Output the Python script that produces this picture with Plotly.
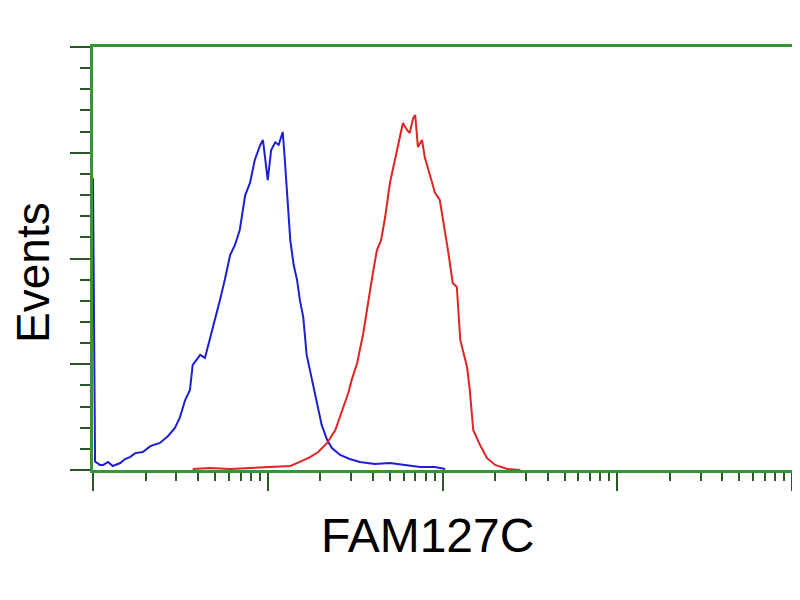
import math
import plotly.graph_objects as go

# Flow cytometry histogram (channels 0-1024 over 4 log decades), counts
blue_channel = [0, 3, 10, 15, 22, 29, 40, 47, 54, 62, 73, 84, 98, 110, 120, 127, 135, 142, 146, 157,
                164, 171, 179, 186, 193, 201, 208, 215, 223, 230, 237, 245, 249, 253, 256, 261, 267,
                272, 278, 281, 284, 289, 294, 299, 303, 308, 313, 321, 328, 335, 343, 350, 362, 376,
                391, 413, 435, 457, 479, 501, 516]
blue_events = [138, 4, 2.4, 2.4, 3.8, 1.9, 3.3, 5.2, 6.1, 8.0, 8.5, 11.3, 12.8, 16.1, 19.9, 24.6, 33.1,
               37.8, 49.6, 54.4, 53, 61.5, 71.9, 80.4, 89.8, 101.7, 106.4, 113.5, 130, 135.7, 146.6,
               153.7, 156, 146.6, 137.1, 151.3, 155, 153.7, 159.8, 146.6, 132.4, 108.7, 96.9, 89.8,
               80.4, 72.3, 54.4, 42.6, 33.1, 21.3, 14.2, 10.4, 7.1, 5.2, 3.8, 2.8, 3.3, 2.4, 1.4,
               1.4, 0.5]

red_channel = [146, 171, 201, 230, 259, 289, 303, 318, 330, 343, 355, 365, 374, 379, 387, 396, 401,
               406, 412, 416, 422, 428, 435, 441, 445, 450, 454, 460, 464, 469, 472, 476, 482, 486,
               494, 501, 508, 513, 520, 527, 533, 538, 548, 552, 557, 567, 577, 589, 607, 626]
red_events = [0.5, 0.9, 0.5, 0.9, 1.4, 1.9, 3.8, 6.1, 8.5, 12.8, 18.9, 28.4, 36.4, 42.6, 50.6, 64.8,
              75.6, 85.1, 96.9, 104, 108.7, 119.6, 135.7, 144.2, 151.3, 158.4, 164.1, 160.8, 159.3,
              166.4, 167.8, 152.7, 156, 148, 138.5, 131, 127.7, 118.2, 104, 88.4, 86.5, 61.5, 48.7,
              37.8, 18.9, 11.8, 5.7, 2.4, 0.5, 0]

x_title = "FAM127C"
y_title = "Events"

GREEN = "rgb(52,150,52)"
TICK = "rgb(40,90,40)"

# log-decade minor tick positions (axis styling)
minor_x = [256 * (d + math.log10(k)) for d in range(4) for k in range(2, 10)]

fig = go.Figure()
fig.add_trace(go.Scatter(x=blue_channel, y=blue_events, mode="lines",
                         line=dict(color="rgb(30,30,210)", width=2), showlegend=False))
fig.add_trace(go.Scatter(x=red_channel, y=red_events, mode="lines",
                         line=dict(color="rgb(225,35,35)", width=2), showlegend=False))

# page body has an 8px default margin, so the figure is 792x592 and offset accordingly
fig.update_layout(
    width=792, height=592,
    margin=dict(l=85, r=8, t=39, b=130, autoexpand=False),
    paper_bgcolor="white", plot_bgcolor="white",
    font=dict(family="Liberation Sans, Arial, sans-serif", color="black"),
    xaxis=dict(range=[0, 1024], showgrid=False, zeroline=False, automargin=False,
               showline=True, linecolor=GREEN, linewidth=3, mirror=True,
               tickmode="array", tickvals=[0, 256, 512, 768, 1024], showticklabels=False,
               ticks="outside", ticklen=18, tickwidth=2, tickcolor=TICK,
               minor=dict(tickmode="array", tickvals=minor_x, ticks="outside",
                          ticklen=8, tickwidth=2, tickcolor=TICK, showgrid=False)),
    yaxis=dict(range=[0, 200], showgrid=False, zeroline=False, automargin=False,
               showline=True, linecolor=GREEN, linewidth=3, mirror=True,
               tickmode="linear", tick0=0, dtick=50, showticklabels=False,
               ticks="outside", ticklen=20, tickwidth=2, tickcolor=TICK,
               minor=dict(tickmode="linear", tick0=0, dtick=10, ticks="outside",
                          ticklen=10, tickwidth=2, tickcolor=TICK, showgrid=False)),
    annotations=[
        dict(text=x_title, xref="paper", yref="paper", x=0.479, y=-0.154,
             xanchor="center", yanchor="middle", showarrow=False,
             font=dict(size=48, color="black")),
        dict(text=y_title, xref="paper", yref="paper", x=-0.086, y=0.468,
             xanchor="center", yanchor="middle", showarrow=False, textangle=-90,
             font=dict(size=46, color="black")),
    ],
)

fig.write_html("out.html")
